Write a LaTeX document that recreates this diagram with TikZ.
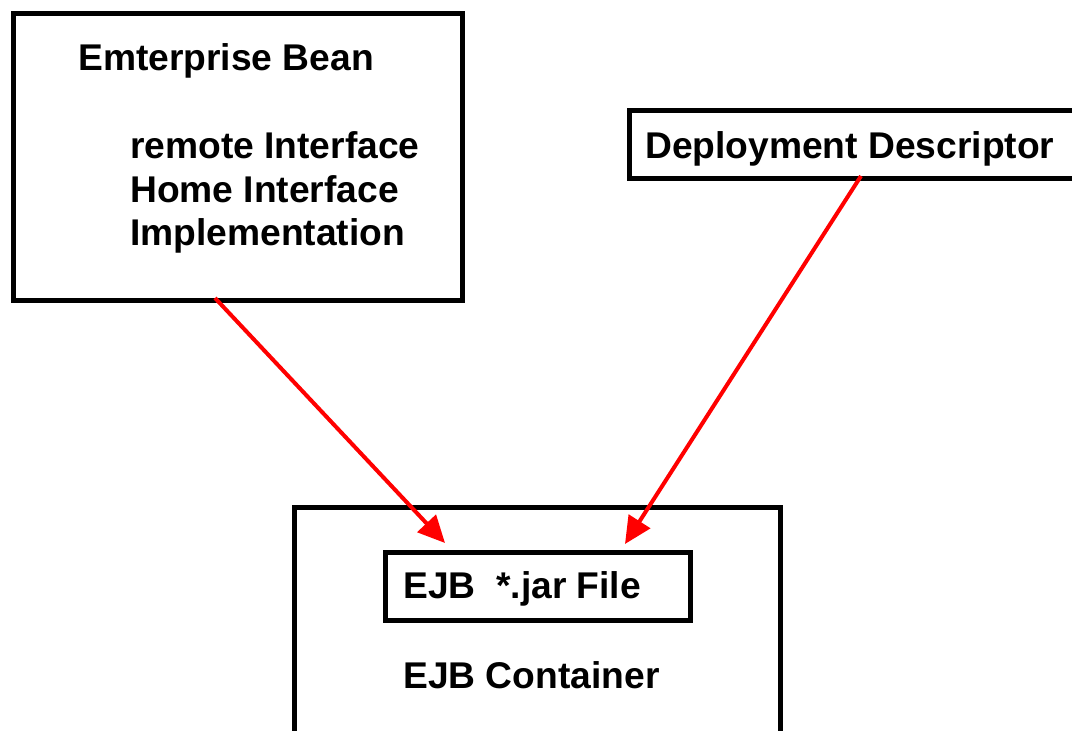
\documentclass[tikz,border=0pt]{standalone}
\usepackage{fontspec}
\setmainfont{Liberation Sans}
\usetikzlibrary{arrows.meta}
\begin{document}
\begin{tikzpicture}[x=1pt,y=-1pt,
  box/.style={draw=black,line width=5pt,rectangle,inner sep=0pt},
  lbl/.style={anchor=base west,inner sep=0pt,font=\fontsize{37.2}{44}\selectfont\bfseries},
  redarrow/.style={draw=red,line width=4pt,-{Triangle[length=27pt,width=25pt]}}]
\useasboundingbox (0,0) rectangle (1072,731);
% boxes
\node[box,minimum width=449pt,minimum height=287pt,anchor=north west] (bean) at (11,11) {};
\node[box,minimum width=470pt,minimum height=67.5pt,anchor=north west] (dd) at (627,108) {};
\node[box,minimum width=486pt,minimum height=240pt,anchor=north west] (cont) at (292,504.5) {};
\node[box,minimum width=305pt,minimum height=68pt,anchor=north west] (jar) at (383,550) {};
% texts
\node[lbl] (beantitle) at (78,70) {Emterprise Bean};
\node[lbl] (remote) at (130,158) {remote Interface};
\node[lbl] (home) at (130,202) {Home Interface};
\node[lbl] (impl) at (130,245) {Implementation};
\node[lbl] (ddtext) at (645,158) {Deployment Descriptor};
\node[lbl] (jartext) at (403,598) {EJB\ \ *.jar File};
\node[lbl] (conttext) at (403,688) {EJB Container};
% connectors
\coordinate (s1) at (215,298);
\coordinate (e1) at (445,543);
\coordinate (s2) at (861,176);
\coordinate (e2) at (625,544);
\draw[redarrow] (s1) -- (e1);
\draw[redarrow] (s2) -- (e2);
\end{tikzpicture}
\end{document}
